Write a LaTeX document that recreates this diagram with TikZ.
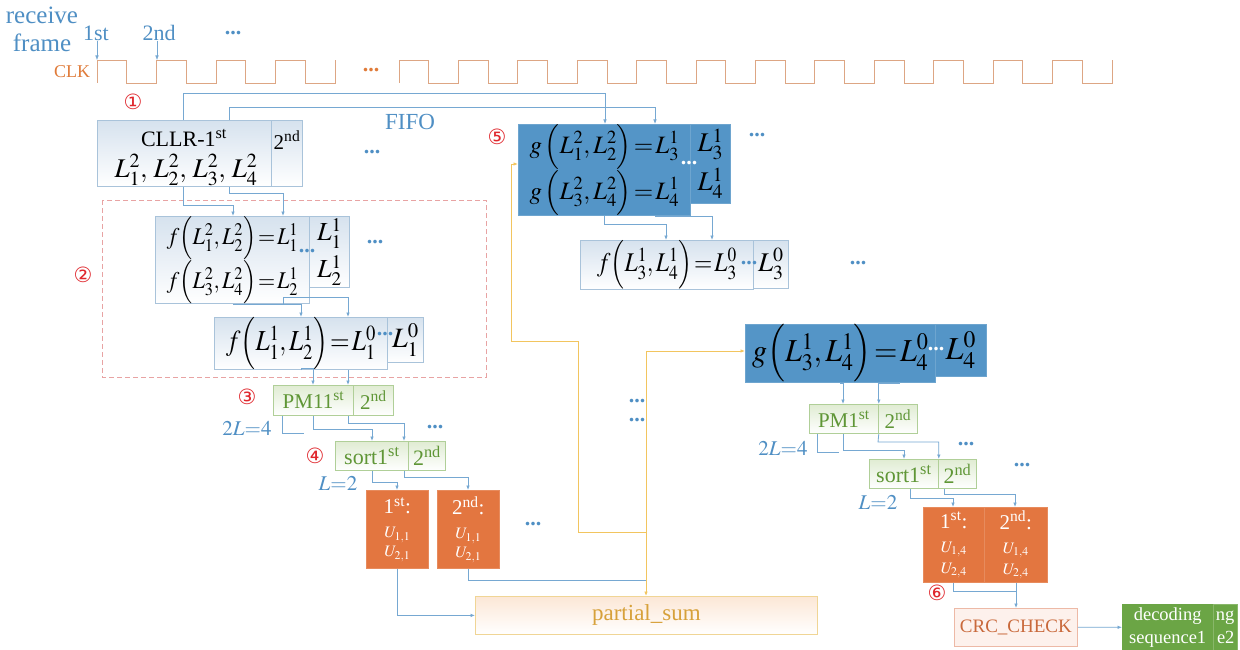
\documentclass[tikz,border=0pt]{standalone}
\usepackage{graphicx}
\usepackage{mathptmx}
\usepackage{fontspec}
\setmainfont{Liberation Serif}
\newfontfamily\djv{DejaVu Sans}
\usetikzlibrary{arrows.meta,calc}
\definecolor{lineblue}{HTML}{76A8D2}
\definecolor{txtblue}{HTML}{4F8FC4}
\definecolor{clkorange}{HTML}{E07B39}
\definecolor{wave}{HTML}{DDA684}
\definecolor{circred}{HTML}{E0282E}
\definecolor{cellborder}{HTML}{A9C3DA}
\definecolor{celltop}{HTML}{D6E2EE}
\definecolor{greenborder}{HTML}{B0CF98}
\definecolor{greentop}{HTML}{E0ECD3}
\definecolor{greentxt}{HTML}{5F9636}
\definecolor{orfill}{HTML}{E37640}
\definecolor{bluefill}{HTML}{5495C7}
\definecolor{psborder}{HTML}{F0D595}
\definecolor{pstop}{HTML}{FCE7D6}
\definecolor{pstxt}{HTML}{D7A13A}
\definecolor{crcborder}{HTML}{EDB9A6}
\definecolor{crcfill}{HTML}{FDF1EC}
\definecolor{crctxt}{HTML}{C9693B}
\definecolor{decgreen}{HTML}{6BA545}
\definecolor{yline}{HTML}{F2C55F}
\definecolor{dashred}{HTML}{E8A3A3}
\newcommand\fsz[2]{\fontsize{#1}{#2}\selectfont}
\newcommand\tighteq{\thickmuskip=1.5mu\medmuskip=1mu}
\newcommand\hsq[2]{\scalebox{#1}[1]{#2}}
\tikzset{
  cell/.style={draw=cellborder, line width=0.8pt, top color=celltop, bottom color=white, inner sep=0pt, anchor=north west, align=center},
  gcell/.style={draw=greenborder, line width=0.8pt, top color=greentop, bottom color=white, text=greentxt, inner sep=0pt, anchor=north west, align=center},
  ocell/.style={draw=orfill!85!white, line width=0.6pt, fill=orfill, text=white, inner sep=0pt, anchor=north west, align=center},
  bcell/.style={draw=bluefill!85!white, line width=0.6pt, fill=bluefill, inner sep=0pt, anchor=north west, align=center},
  conn/.style={draw=lineblue, line width=0.8pt},
  arr/.style={conn, -{Latex[length=4.5pt,width=3.6pt]}},
  yconn/.style={draw=yline, line width=0.9pt},
  yarr/.style={yconn, -{Latex[length=4.5pt,width=3.6pt]}},
  bdots/.style={text=txtblue, font=\bfseries\fsz{22}{22}, inner sep=0pt},
  wdots/.style={text=white, font=\bfseries\fsz{22}{22}, inner sep=0pt},
  circ/.style={text=circred, font=\djv\fsz{21}{21}, inner sep=0pt},
  lbl/.style={text=txtblue, inner sep=0pt, align=center}
}
\begin{document}
\begin{tikzpicture}[x=1pt,y=-1pt]
\fill[white] (0,0) rectangle (1240,650);
\useasboundingbox (0,0) rectangle (1240,650);

% ---- header ----
\node[lbl, font=\fsz{25}{28}] (recv) at (42,29) {receive\\frame};
\node[lbl, font=\fsz{22}{22}] (first) at (96,33) {1st};
\node[lbl, font=\fsz{22}{22}] (second) at (159,33) {2nd};
\node[bdots] (hdots) at (233,33) {...};
\node[text=clkorange, font=\fsz{18}{18}, inner sep=0pt] (clk) at (72,72) {CLK};
\node[text=clkorange, font=\bfseries\fsz{22}{22}, inner sep=0pt] (clkdots) at (371,70) {...};
\coordinate (e1) at (97,60);
\coordinate (e2) at (157,60);
\draw[arr, line width=0.6pt] (first.south -| 97,0) -- (e1);
\draw[arr, line width=0.6pt] (second.south -| 157,0) -- (e2);

% clock
\draw[wave, line width=0.9pt] (97,83) -- (97,60)
  \foreach \i in {1,...,4}{ -- ++(29.75,0) -- ++(0,23) -- ++(29.75,0) -- ++(0,-23)};
\draw[wave, line width=0.9pt] (399,83) -- (399,60)
  \foreach \i in {1,...,12}{ -- ++(29.71,0) -- ++(0,23) -- ++(29.71,0) -- ++(0,-23)};

% circled numbers
\node[circ] (c1) at (133,102) {①};
\node[circ] (c2) at (83,275) {②};
\node[circ] (c3) at (247,397) {③};
\node[circ] (c4) at (315,456) {④};
\node[circ] (c5) at (497,137) {⑤};
\node[circ] (c6) at (937,593) {⑥};

\node[lbl, font=\fsz{23}{23}] (fifo) at (410,122) {FIFO};

% dashed frame
\draw[dashred, dashed, dash pattern=on 5pt off 3pt, line width=0.8pt] (102,200) rectangle (486,377);

% ---- left chain ----
\node[cell, minimum width=174pt, minimum height=66pt] (cllrA) at (97,120) {};
\node[inner sep=0pt, font=\fsz{22}{24}] (cllrT1) at (184,138) {CLLR-1\textsuperscript{st}};
\node[inner sep=0pt, font=\fsz{27}{28}] (cllrT2) at (186,170) {$L_1^2,\,L_2^2,\,L_3^2,\,L_4^2$};
\node[cell, minimum width=31pt, minimum height=66pt] (cllrB) at (271,120) {};
\node[inner sep=0pt, font=\fsz{21}{21}] (cllrBt) at (287,140) {2\textsuperscript{nd}};
\node[bdots] (d1) at (372,152) {...};

\node[cell, minimum width=154pt, minimum height=71pt, font=\fsz{24}{37}\tighteq] (fA) at (155,216)
  {\hsq{0.92}{$f\Bigl(L_1^2,L_2^2\Bigr)=L_1^1$}\\\hsq{0.92}{$f\Bigl(L_3^2,L_4^2\Bigr)=L_2^1$}};
\node[cell, minimum width=40pt, minimum height=71pt, font=\fsz{26}{37}] (fB) at (309,216)
  {$L_1^1$\\$L_2^1$};
\node[bdots] (d2) at (307,251) {...};
\node[bdots] (d3) at (375,242) {...};

\node[cell, minimum width=173pt, minimum height=45pt, font=\fsz{29}{30}\tighteq] (fC) at (214,317)
  {\hsq{0.87}{$f\Bigl(L_1^1,L_2^1\Bigr)=L_1^0$}};
\node[cell, minimum width=36pt, minimum height=45pt, font=\fsz{28}{30}] (fD) at (387,317) {$L_1^0$};
\node[bdots] (d4) at (385,334) {...};

\node[gcell, minimum width=80pt, minimum height=30pt, font=\fsz{21}{22}] (pmA) at (273,385) {PM11\textsuperscript{st}};
\node[gcell, minimum width=40pt, minimum height=30pt, font=\fsz{21}{22}] (pmB) at (353,385) {2\textsuperscript{nd}};
\node[lbl, font=\fsz{21}{21}] (twoL) at (247,428) {$2L{=}4$};
\coordinate (pmtail) at (304,433);
\node[bdots] (d5) at (435,427) {...};

\node[gcell, minimum width=73pt, minimum height=29pt, font=\fsz{22}{22}] (sortA) at (335,441) {sort1\textsuperscript{st}};
\node[gcell, minimum width=37pt, minimum height=29pt, font=\fsz{22}{22}] (sortB) at (408,441) {2\textsuperscript{nd}};
\node[lbl, font=\fsz{21}{21}] (Ltwo) at (338,483) {$L{=}2$};

\node[ocell, minimum width=62pt, minimum height=78pt, font=\fsz{16}{19}] (orA) at (366,490)
  {{\fsz{21}{22}1\textsuperscript{st}:}\\[5pt]$U_{1,1}$\\$U_{2,1}$};
\node[ocell, minimum width=62pt, minimum height=78pt, font=\fsz{16}{19}] (orB) at (437,490)
  {{\fsz{21}{22}2\textsuperscript{nd}:}\\[5pt]$U_{1,1}$\\$U_{2,1}$};
\node[bdots] (d6) at (533,524) {...};

\node[draw=psborder, line width=0.8pt, top color=pstop, bottom color=white, text=pstxt,
  minimum width=342pt, minimum height=38pt, anchor=north west, inner sep=0pt, font=\fsz{23}{23}] (partial) at (475,596) {partial\_sum};

% ---- right chain ----
\node[bcell, minimum width=172pt, minimum height=79pt, font=\fsz{25}{39}\tighteq] (gA) at (518,124)
  {$g\,\Bigl(L_1^2,L_2^2\Bigr)=L_3^1$\\$g\,\Bigl(L_3^2,L_4^2\Bigr)=L_4^1$};
\node[bcell, minimum width=40pt, minimum height=79pt, font=\fsz{27}{39}] (gB) at (690,124)
  {$L_3^1$\\$L_4^1$};
\node[wdots] (d7) at (689,163) {...};
\node[bdots] (d8) at (757,135) {...};

\node[cell, minimum width=173pt, minimum height=48pt, font=\fsz{27}{30}\tighteq] (fE) at (580,240)
  {\hsq{0.87}{$f\Bigl(L_3^1,L_4^1\Bigr)=L_3^0$}};
\node[cell, minimum width=35pt, minimum height=48pt, font=\fsz{27}{30}] (fF) at (753,240) {$L_3^0$};
\node[bdots] (d9) at (749,263) {...};
\node[bdots] (d10) at (858,263) {...};

\node[bdots] (d11) at (637,401) {...};
\node[bdots] (d12) at (637,420) {...};

\node[bcell, minimum width=190pt, minimum height=52pt, font=\fsz{32}{34}\tighteq] (gC) at (745,324)
  {\hsq{0.94}{$g\Bigl(L_3^1,L_4^1\Bigr)=L_4^0$}};
\node[bcell, minimum width=51pt, minimum height=52pt, font=\fsz{32}{34}] (gD) at (935,324) {$L_4^0$};
\node[wdots] (d13) at (936,349) {...};

\node[gcell, minimum width=69pt, minimum height=29pt, font=\fsz{21}{22}] (pm1A) at (809,404) {PM1\textsuperscript{st}};
\node[gcell, minimum width=39pt, minimum height=29pt, font=\fsz{21}{22}] (pm1B) at (878,404) {2\textsuperscript{nd}};
\node[lbl, font=\fsz{21}{21}] (twoL2) at (783,448) {$2L{=}4$};
\coordinate (pm1tail) at (839,452);
\node[bdots] (d14) at (966,444) {...};
\node[bdots] (d15) at (1022,465) {...};

\node[gcell, minimum width=69pt, minimum height=29pt, font=\fsz{22}{22}] (sort2A) at (869,459) {sort1\textsuperscript{st}};
\node[gcell, minimum width=38pt, minimum height=29pt, font=\fsz{22}{22}] (sort2B) at (938,459) {2\textsuperscript{nd}};
\node[lbl, font=\fsz{21}{21}] (Ltwo2) at (878,502) {$L{=}2$};

\node[ocell, minimum width=61pt, minimum height=75pt, font=\fsz{16}{21}] (or2A) at (923,507)
  {{\fsz{21}{22}1\textsuperscript{st}:}\\[3pt]$U_{1,4}$\\$U_{2,4}$};
\node[ocell, minimum width=63pt, minimum height=75pt, font=\fsz{16}{21}] (or2B) at (984,507)
  {{\fsz{21}{22}2\textsuperscript{nd}:}\\[3pt]$U_{1,4}$\\$U_{2,4}$};

\node[draw=crcborder, line width=0.8pt, fill=crcfill, text=crctxt, minimum width=123pt, minimum height=38pt,
  anchor=north west, inner sep=0pt, font=\fsz{19}{19}] (crc) at (954,608) {CRC\_CHECK};

\node[draw=decgreen, fill=decgreen, text=white, minimum width=91pt, minimum height=46pt, anchor=north west,
  inner sep=0pt, align=center, font=\fsz{18.5}{23}] (decA) at (1122,604) {decoding\\sequence1};
\node[draw=decgreen!80!white, fill=decgreen, text=white, minimum width=24pt, minimum height=46pt, anchor=north west,
  inner sep=0pt, align=right, font=\fsz{18.5}{23}] (decB) at (1213,604) {ng\\e2};

% ---- connectors ----
\draw[arr] (cllrA.north -| 183,0) -- (183,93) -| (gA.north -| 605,0);
\draw[arr] (cllrA.north -| 229,0) -- (229,107) -| (gA.north -| 655,0);
\draw[arr] (cllrA.south -| 183,0) -- (183,205) -| (fA.north -| 233,0);
\draw[arr] (cllrA.south -| 229,0) -- (229,193) -| (fA.north -| 283,0);
\draw[arr] (fA.south -| 233,0) -- (233,304) -| (fC.north -| 301,0);
\draw[arr] (fA.south -| 283,0) -- (283,297) -| (fC.north -| 348,0);
\draw[arr] (fC.south -| 301,0) -- (301,368) -| (pmA.north -| 313,0);
\draw[arr] (fC.south -| 348,0) -- (pmA.north -| 348,0);
\draw[conn] (pmA.south -| 282,0) |- (pmtail);
\draw[arr] (pmA.south -| 313,0) -- (313,429) -| (sortA.north -| 372,0);
\draw[arr] (pmA.south -| 348,0) -- (348,423) -| (sortA.north -| 404,0);
\draw[arr] (sortA.south -| 372,0) -- (372,482) -| (orA.north -| 397,0);
\draw[arr] (sortA.south -| 404,0) -- (404,477) -| (orB.north -| 468,0);
\draw[arr] (orA.south -| 397,0) |- (partial.west);
\coordinate (yjoin) at (646,351);
\coordinate (yj2) at (646,532);
\coordinate (bjoin) at (646,580);
\draw[conn] (orB.south -| 468,0) |- (bjoin);
\draw[yarr] (yjoin) -- (partial.north -| 646,0);
\draw[yarr] (yjoin) -- (gC.west |- 0,351);
\draw[yarr] (yj2) -| (578,341) -| (511,164) -- (gA.west |- 0,164);

\draw[arr] (gA.south -| 604,0) -- (604,224) -| (fE.north -| 666,0);
\draw[arr] (gA.south -| 655,0) -- (655,216) -| (fE.north -| 712,0);
\draw[arr] (gC.south -| 840,0) -- (840,383) -| (pm1A.north -| 843,0);
\draw[arr] (gC.south -| 899,0) -- (899,383) -| (pm1A.north east);
\draw[conn] (pm1A.south -| 817,0) |- (pm1tail);
\draw[arr] (pm1A.south -| 843,0) -- (843,450) -| (sort2A.north -| 904,0);
\draw[arr] (pm1A.south east) -- (878,442) -| (sort2A.north east);
\draw[arr] (sort2A.south -| 910,0) -- (910,498) -| (or2A.north -| 953,0);
\draw[arr] (sort2B.south -| 944,0) -- (944,494) -| (or2B.north -| 1015,0);
\draw[conn] (or2A.south -| 953,0) |- (1016,591);
\draw[arr] (or2B.south -| 1016,0) -- (crc.north -| 1016,0);
\draw[arr] (crc) -- (decA);
\end{tikzpicture}
\end{document}
